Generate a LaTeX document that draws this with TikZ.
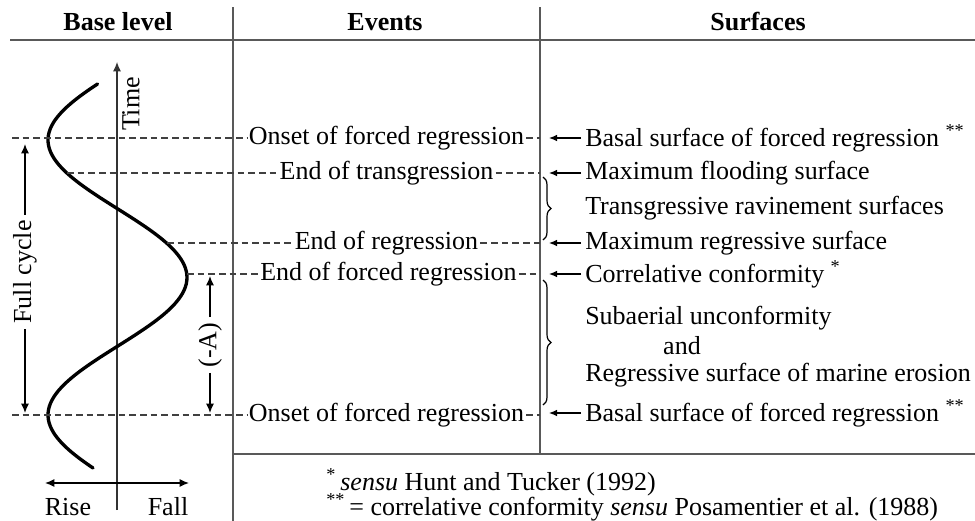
\documentclass[tikz,border=0pt]{standalone}
\usepackage{fontspec}
\setmainfont{Liberation Serif}
\usetikzlibrary{arrows.meta,decorations.pathreplacing}
\tikzset{
  rule/.style={draw=black!65, line width=1.1pt},
  guide/.style={draw=black!75, line width=0.8pt, dash pattern=on 5pt off 3pt},
  evt/.style={inner sep=1.5pt, font=\fontsize{19.5}{22}\selectfont},
  surf/.style={anchor=west, inner sep=0pt, font=\fontsize{19.5}{22}\selectfont},
  lbl/.style={inner sep=1pt, font=\fontsize{19.5}{22}\selectfont},
  hdr/.style={font=\fontsize{19.5}{22}\selectfont\bfseries},
  ptr/.style={draw=black, line width=0.9pt, -{Latex[length=6pt,width=5pt]}},
  dim/.style={draw=black, line width=0.9pt, -{Latex[length=7pt,width=6pt]}},
  brc/.style={draw=black, line width=0.9pt, decorate, decoration={brace, amplitude=6pt}},
}
\begin{document}
\begin{tikzpicture}[x=0.75pt,y=-0.75pt]
\useasboundingbox (0,0) rectangle (975,521);
% table rules
\coordinate (hl) at (10,40); \coordinate (hr) at (975,40);
\coordinate (v1t) at (233,7); \coordinate (v1b) at (233,521);
\coordinate (v2t) at (540,7); \coordinate (v2b) at (540,454);
\coordinate (bl) at (233,454); \coordinate (br) at (975,454);
\draw[rule] (hl) -- (hr);
\draw[rule] (v1t) -- (v1b);
\draw[rule] (v2t) -- (v2b);
\draw[rule] (bl) -- (br);
% headers
\node[hdr] (h1) at (118,22) {Base level};
\node[hdr] (h2) at (385,22) {Events};
\node[hdr] (h3) at (758,22) {Surfaces};
% time axis and curve
\coordinate (tbot) at (117,510); \coordinate (ttop) at (117,62);
\draw[dim, draw=black!80, line width=0.8pt] (tbot) -- (ttop);
\node[lbl, rotate=90] (time) at (131,104) {Time};
\draw[line width=2.5pt, line cap=round] plot[domain=84:468, samples=120, smooth] ({117.5-69.5*cos(1.309091*(\x-140))}, \x);
% rise / fall
\coordinate (rl) at (45,483); \coordinate (rr) at (189,483);
\draw[dim, {Latex[length=7pt,width=6pt]}-{Latex[length=7pt,width=6pt]}] (rl) -- (rr);
\node[lbl] (rise) at (68,507) {Rise};
\node[lbl] (fall) at (168,507) {Fall};
% event texts
\node[evt] (e1) at (386.5,138) {Onset of forced regression};
\node[evt] (e2) at (386.5,173) {End of transgression};
\node[evt] (e3) at (386.5,243) {End of regression};
\node[evt] (e4) at (388.5,274) {End of forced regression};
\node[evt] (e5) at (386.5,415) {Onset of forced regression};
% dashed guides
\coordinate (g1a) at (12,138);  \coordinate (g1b) at (540,138);
\coordinate (g2a) at (67,173);  \coordinate (g2b) at (540,173);
\coordinate (g3a) at (167,243); \coordinate (g3b) at (540,243);
\coordinate (g4a) at (187,274); \coordinate (g4b) at (540,274);
\coordinate (g5a) at (12,415);  \coordinate (g5b) at (540,415);
\draw[guide] (g1a) -- (e1.west); \draw[guide] (e1.east) -- (g1b);
\draw[guide] (g2a) -- (e2.west); \draw[guide] (e2.east) -- (g2b);
\draw[guide] (g3a) -- (e3.west); \draw[guide] (e3.east) -- (g3b);
\draw[guide] (g4a) -- (e4.west); \draw[guide] (e4.east) -- (g4b);
\draw[guide] (g5a) -- (e5.west); \draw[guide] (e5.east) -- (g5b);
% full cycle
\node[lbl, rotate=90, inner sep=4pt] (fc) at (25,272) {Full cycle};
\coordinate (fct) at (25,144); \coordinate (fcb) at (25,413);
\draw[dim] (fc.east) -- (fct);
\draw[dim] (fc.west) -- (fcb);
% (-A)
\node[lbl, rotate=90, inner sep=4pt] (am) at (210,345) {(-A)};
\coordinate (amt) at (210,276); \coordinate (amb) at (210,413);
\draw[dim] (am.east) -- (amt);
\draw[dim] (am.west) -- (amb);
% surfaces
\node[surf] (s1) at (585,138) {Basal surface of forced regression \textsuperscript{**}};
\node[surf] (s2) at (585,173) {Maximum flooding surface};
\node[surf] (s3) at (585,208) {Transgressive ravinement surfaces};
\node[surf] (s4) at (585,243) {Maximum regressive surface};
\node[surf] (s5) at (585,274) {Correlative conformity \textsuperscript{*}};
\node[surf] (s6) at (585,318) {Subaerial unconformity};
\node[lbl] (s7) at (682,346) {and};
\node[surf] (s8) at (585,375) {Regressive surface of marine erosion};
\node[surf] (s9) at (585,413) {Basal surface of forced regression \textsuperscript{**}};
% pointers
\coordinate (p1) at (549,138); \coordinate (p2) at (549,173);
\coordinate (p4) at (549,243); \coordinate (p5) at (549,274);
\coordinate (p9) at (549,413);
\draw[ptr] ([xshift=-3pt]s1.west) -- (p1);
\draw[ptr] ([xshift=-3pt]s2.west) -- (p2);
\draw[ptr] ([xshift=-3pt]s4.west) -- (p4);
\draw[ptr] ([xshift=-3pt]s5.west) -- (p5);
\draw[ptr] ([xshift=-3pt]s9.west) -- (p9);
% braces
\coordinate (b1t) at (543,177); \coordinate (b1b) at (543,240);
\coordinate (b2t) at (543,280); \coordinate (b2b) at (543,405);
\draw[brc] (b1t) -- (b1b);
\draw[brc] (b2t) -- (b2b);
% footnotes
\node[surf] (f1) at (326,482) {\textsuperscript{*}\,\textit{sensu} Hunt and Tucker (1992)};
\node[surf] (f2) at (326,507) {\textsuperscript{**}\,= correlative conformity \textit{sensu} Posamentier et al. (1988)};
\end{tikzpicture}
\end{document}
